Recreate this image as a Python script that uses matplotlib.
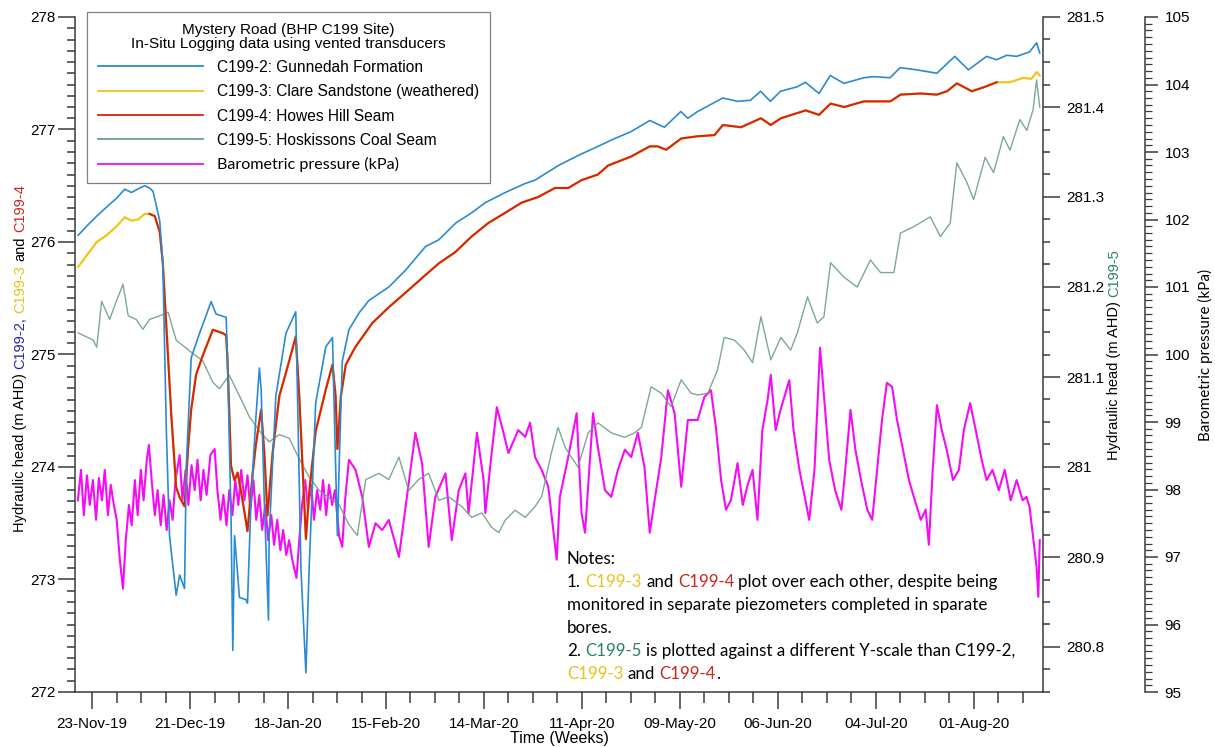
import numpy as np
import pandas as pd
import matplotlib
matplotlib.use('Agg')
import matplotlib.pyplot as plt
from matplotlib.ticker import MultipleLocator, FuncFormatter, FixedLocator
import matplotlib.dates as mdates

plt.rcParams['font.family'] = ['Liberation Sans', 'DejaVu Sans']

# ---------------- data (days after 23-Nov-2019) ----------------
START = '2019-11-23'

c2_day = [-4.0, -1.6, 1.3, 4.1, 7.0, 9.3, 11.2, 13.6, 15.0, 16.4, 17.4, 19.3, 20.2, 21.2, 22.1,
          24.0, 25.0, 26.4, 26.9, 28.3, 30.7, 32.6, 34.0, 35.4, 38.3, 38.7, 39.7, 40.2, 40.7,
          42.1, 44.0, 44.4, 45.4, 46.8, 47.8, 48.3, 49.2, 50.4, 50.6, 52.5, 55.4, 58.2, 58.7,
          59.7, 61.1, 62.0, 63.9, 66.8, 68.7, 69.1, 70.1, 70.6, 71.5, 73.4, 76.3, 79.1, 84.8,
          89.6, 95.3, 99.1, 104.0, 108.5, 112.4, 118.1, 123.8, 126.6, 133.3, 139.0, 144.6,
          149.4, 154.0, 159.4, 163.6, 168.3, 170.3, 173.1, 180.3, 184.5, 188.2, 191.1, 193.9,
          196.8, 201.6, 203.9, 207.8, 211.0, 214.9, 220.6, 223.5, 228.1, 231.0, 235.8, 241.5,
          246.6, 250.5, 255.7, 258.6, 261.5, 264.3, 268.0, 270.0, 270.9]
c2_val = [276.06, 276.14, 276.23, 276.31, 276.39, 276.47, 276.44, 276.48, 276.50, 276.48, 276.45,
          276.19, 275.81, 274.32, 273.39, 272.86, 273.04, 272.92, 274.01, 274.97, 275.19, 275.35,
          275.47, 275.36, 275.33, 274.94, 273.54, 272.37, 273.39, 272.84, 272.82, 272.79, 273.70,
          274.44, 274.88, 274.69, 273.70, 272.64, 273.39, 274.63, 275.19, 275.38, 274.63, 273.08,
          272.17, 273.08, 274.57, 275.07, 275.15, 274.63, 273.39, 274.01, 274.94, 275.22, 275.37,
          275.48, 275.60, 275.75, 275.96, 276.02, 276.17, 276.26, 276.35, 276.44, 276.52, 276.55,
          276.68, 276.77, 276.85, 276.92, 276.98, 277.08, 277.02, 277.16, 277.10, 277.16, 277.28,
          277.25, 277.26, 277.34, 277.25, 277.34, 277.38, 277.42, 277.32, 277.48, 277.41, 277.46,
          277.47, 277.46, 277.55, 277.53, 277.50, 277.65, 277.53, 277.65, 277.62, 277.66, 277.65,
          277.69, 277.77, 277.68]

c4_day = [16.4, 17.9, 19.3, 20.2, 21.2, 22.6, 24.0, 25.0, 26.4, 27.4, 28.3, 29.7, 31.6, 34.5,
          37.3, 38.3, 38.7, 39.7, 40.7, 41.6, 43.0, 44.4, 45.9, 46.8, 48.3, 49.2, 50.1, 51.6,
          53.5, 56.3, 58.2, 59.2, 60.6, 61.1, 62.0, 63.9, 66.8, 68.7, 69.6, 70.1, 71.1, 72.5,
          75.3, 80.1, 84.8, 89.6, 94.3, 99.1, 103.8, 108.5, 113.3, 118.1, 122.8, 127.5, 132.3,
          136.1, 139.9, 144.6, 147.5, 154.1, 159.4, 161.7, 164.1, 168.4, 173.1, 177.9, 180.3,
          185.5, 191.2, 194.0, 196.9, 204.0, 207.8, 211.1, 215.0, 220.6, 228.2, 231.1, 236.8,
          241.5, 244.4, 247.2, 251.5, 255.3, 258.6]
c4_val = [276.25, 276.23, 276.09, 275.81, 275.25, 274.47, 273.82, 273.73, 273.65, 274.16, 274.51,
          274.82, 274.99, 275.22, 275.19, 275.17, 274.94, 274.01, 273.88, 273.95, 273.70, 273.43,
          273.95, 274.20, 274.51, 274.13, 273.57, 274.13, 274.63, 274.94, 275.16, 274.63, 273.70,
          273.36, 273.76, 274.32, 274.69, 274.91, 274.63, 274.16, 274.63, 274.91, 275.07, 275.28,
          275.42, 275.55, 275.68, 275.81, 275.91, 276.05, 276.17, 276.26, 276.35, 276.40, 276.48,
          276.48, 276.55, 276.60, 276.68, 276.76, 276.85, 276.85, 276.82, 276.92, 276.94, 276.95,
          277.04, 277.02, 277.10, 277.04, 277.10, 277.17, 277.13, 277.23, 277.20, 277.25, 277.25,
          277.31, 277.32, 277.31, 277.34, 277.41, 277.34, 277.38, 277.42]

# C199-3 lies on top of C199-4 in the middle of the record; own readings at start and end
c3_start_day = [-4.0, -1.6, 1.3, 4.1, 7.0, 9.3, 11.2, 13.1, 15.0]
c3_start_val = [275.78, 275.88, 276.00, 276.06, 276.14, 276.22, 276.19, 276.20, 276.25]
c3_end_day = [262.4, 266.2, 268.5, 270.0, 270.9]
c3_end_val = [277.42, 277.46, 277.45, 277.51, 277.48]

c5_day = [-4.0, 0.3, 1.3, 2.7, 5.0, 6.5, 8.8, 10.3, 12.6, 14.5, 16.4, 19.3, 21.7, 24.0, 28.8,
          31.6, 34.5, 36.4, 39.2, 42.1, 44.9, 47.8, 50.6, 53.5, 56.3, 59.2, 62.0, 64.9, 67.7,
          70.6, 73.4, 75.8, 78.2, 82.0, 84.8, 87.7, 90.5, 93.3, 96.2, 99.1, 101.9, 105.7, 108.5,
          111.4, 114.2, 116.2, 118.1, 120.9, 123.8, 126.6, 128.5, 131.3, 133.2, 135.2, 137.0,
          138.9, 141.8, 144.6, 148.4, 152.2, 155.1, 157.0, 159.8, 162.7, 165.5, 168.4, 171.2,
          173.1, 176.0, 178.8, 180.7, 183.6, 186.4, 188.8, 191.2, 194.0, 196.9, 199.7, 201.6,
          204.5, 207.3, 209.2, 211.1, 214.9, 218.7, 222.5, 225.4, 229.2, 231.1, 234.9, 239.6,
          242.5, 245.3, 247.2, 250.1, 252.0, 255.3, 257.7, 260.5, 262.4, 265.2, 267.2, 269.0,
          270.0, 270.9]
c5_val = [281.149, 281.141, 281.133, 281.184, 281.164, 281.180, 281.203, 281.168, 281.164,
          281.153, 281.164, 281.168, 281.172, 281.141, 281.126, 281.118, 281.094, 281.087,
          281.102, 281.079, 281.056, 281.040, 281.028, 281.036, 281.032, 281.009, 280.989,
          280.974, 280.966, 280.958, 280.936, 280.924, 280.986, 280.993, 280.986, 281.011,
          280.974, 280.986, 280.993, 280.963, 280.967, 280.956, 280.944, 280.949, 280.933,
          280.927, 280.941, 280.952, 280.944, 280.956, 280.967, 281.016, 281.044, 281.022,
          281.011, 281.000, 281.038, 281.049, 281.038, 281.033, 281.038, 281.044, 281.089,
          281.082, 281.067, 281.097, 281.082, 281.080, 281.082, 281.108, 281.144, 281.141,
          281.130, 281.116, 281.167, 281.119, 281.144, 281.130, 281.149, 281.189, 281.160,
          281.167, 281.227, 281.211, 281.200, 281.230, 281.216, 281.216, 281.260, 281.267,
          281.278, 281.256, 281.271, 281.338, 281.316, 281.297, 281.344, 281.327, 281.367,
          281.352, 281.386, 281.374, 281.397, 281.430, 281.400]

baro_day = [-4.1, -3.2, -2.4, -1.5, -0.7, 0.2, 1.1, 1.9, 2.8, 3.6, 4.5, 5.3, 6.2, 7.0, 7.9, 8.8,
            9.6, 10.5, 11.3, 12.2, 13.0, 13.9, 14.7, 15.6, 16.2, 17.0, 17.9, 18.7, 19.6, 20.4,
            21.3, 22.1, 23.0, 23.8, 25.0, 25.8, 26.7, 27.5, 28.4, 29.3, 30.1, 31.0, 31.8, 32.7,
            33.8, 35.0, 35.8, 36.7, 37.5, 38.4, 39.2, 40.1, 40.9, 41.8, 42.6, 43.5, 44.4, 45.2,
            46.1, 46.9, 47.8, 48.6, 49.5, 50.3, 51.2, 52.0, 52.9, 53.8, 54.6, 55.5, 56.3, 57.2,
            58.4, 59.2, 60.0, 60.9, 61.7, 62.6, 63.4, 64.3, 65.2, 66.0, 66.9, 67.7, 68.6, 69.4,
            70.6, 71.5, 72.3, 73.4, 75.3, 77.2, 79.1, 81.0, 82.9, 84.8, 87.7, 89.6, 92.4, 94.3,
            96.2, 98.1, 101.0, 102.8, 104.8, 106.7, 107.6, 110.0, 111.9, 112.4, 114.2, 115.7,
            117.6, 119.0, 121.8, 123.8, 125.2, 126.6, 128.5, 130.4, 132.8, 133.7, 136.1, 138.5,
            139.9, 140.9, 143.2, 144.6, 146.6, 148.4, 150.3, 152.3, 154.1, 156.0, 157.9, 159.4,
            160.8, 162.7, 164.6, 166.5, 168.4, 170.3, 173.1, 175.0, 176.9, 178.3, 179.8, 181.2,
            182.6, 184.5, 186.0, 187.4, 188.8, 190.2, 191.6, 193.1, 194.0, 195.4, 196.8, 199.3,
            200.5, 202.2, 203.9, 205.0, 206.5, 208.1, 209.3, 210.7, 212.4, 214.2, 215.3, 216.8,
            218.2, 219.8, 221.6, 223.0, 224.4, 225.8, 227.2, 228.7, 230.1, 231.8, 233.5, 235.2,
            236.9, 238.3, 239.2, 240.3, 241.5, 242.9, 244.3, 246.1, 247.8, 249.2, 251.0, 252.6,
            254.3, 255.7, 257.4, 259.2, 260.9, 262.6, 264.3, 266.0, 267.1, 268.0, 269.0, 270.0,
            270.5, 270.9]
baro_val = [97.84, 98.29, 97.62, 98.21, 97.77, 98.14, 97.55, 98.17, 97.84, 98.29, 97.62, 98.07,
            97.77, 97.55, 96.96, 96.53, 97.25, 97.77, 97.47, 98.14, 97.62, 98.29, 97.84, 98.44,
            98.66, 98.14, 97.62, 97.99, 97.47, 97.92, 97.40, 97.84, 97.55, 98.14, 98.51, 97.84,
            98.29, 97.77, 98.36, 97.99, 98.44, 97.84, 98.29, 97.92, 98.51, 98.60, 97.99, 97.55,
            97.92, 97.47, 97.99, 97.62, 98.14, 97.77, 98.29, 97.84, 98.21, 97.70, 98.14, 97.55,
            97.92, 97.40, 97.77, 97.25, 97.62, 97.18, 97.55, 97.10, 97.40, 97.03, 97.25, 96.96,
            96.69, 97.25, 97.77, 98.14, 97.70, 98.07, 97.55, 97.99, 97.70, 98.14, 97.62, 98.07,
            97.77, 97.99, 97.31, 97.15, 97.84, 98.44, 98.29, 97.89, 97.15, 97.50, 97.40, 97.55,
            97.00, 97.74, 98.84, 98.39, 97.15, 97.89, 98.24, 97.25, 97.99, 98.24, 97.65, 98.84,
            98.14, 97.65, 98.54, 99.22, 98.84, 98.54, 98.88, 98.78, 98.99, 98.48, 98.29, 98.04,
            96.96, 97.89, 98.48, 99.13, 97.65, 97.36, 99.13, 98.62, 97.99, 97.89, 98.29, 98.59,
            98.48, 98.84, 98.33, 97.36, 97.84, 98.48, 99.47, 99.13, 98.04, 99.03, 99.03, 99.37,
            99.47, 98.93, 98.14, 97.70, 97.84, 98.39, 97.77, 98.07, 98.29, 97.55, 98.88, 99.33,
            99.70, 98.88, 99.18, 99.62, 98.88, 98.29, 97.84, 97.55, 98.29, 100.10, 99.33, 98.44,
            97.99, 97.70, 98.29, 99.18, 98.59, 98.14, 97.70, 97.55, 98.29, 99.03, 99.58, 99.52,
            99.03, 98.59, 98.14, 97.84, 97.55, 97.70, 97.18, 98.29, 99.25, 98.88, 98.59, 98.14,
            98.29, 98.88, 99.28, 98.88, 98.44, 98.14, 98.29, 97.99, 98.29, 97.84, 98.14, 97.84,
            97.89, 97.74, 97.30, 96.85, 96.41, 97.25]

labels = ['C199-2: Gunnedah Formation', 'C199-3: Clare Sandstone (weathered)',
          'C199-4: Howes Hill Seam', 'C199-5: Hoskissons Coal Seam', 'Barometric pressure (kPa)']
legend_title = 'Mystery Road (BHP C199 Site)\nIn-Situ Logging data using vented transducers'
major_ticks = pd.date_range('2019-11-23', periods=10, freq='28D')
minor_ticks = pd.date_range('2019-11-16', '2020-08-22', freq='7D')
x_range = (pd.Timestamp('2019-11-18 02:00'), pd.Timestamp('2020-08-20 20:00'))

# colours
C_BLUE, C_YEL, C_RED, C_GRN, C_MAG = '#2a8bd3', '#f0c419', '#d8230f', '#6f9f88', '#f50cf5'
T_BLUE, T_YEL, T_RED, T_GRN = '#2525a8', '#e8c21c', '#c8281e', '#2f8260'


def to_dates(days):
    return pd.Timestamp(START) + pd.to_timedelta(np.asarray(days, dtype=float), unit='D')


c3_day = c3_start_day + c4_day + c3_end_day
c3_val = c3_start_val + c4_val + c3_end_val

W, H = 1215, 747
fig = plt.figure(figsize=(W / 100, H / 100), dpi=100)
L, R, B, T = 75 / W, 1043 / W, 1 - 692 / H, 1 - 17 / H
ax = fig.add_axes([L, B, R - L, T - B])
ax2 = ax.twinx()
ax3 = ax.twinx()
ax3.set_zorder(1)
ax2.set_zorder(2)
ax.set_zorder(3)
ax.patch.set_visible(False)
ax2.patch.set_visible(False)

lb, = ax3.plot(to_dates(baro_day), baro_val, color=C_MAG, lw=1.5)
l5, = ax2.plot(to_dates(c5_day), c5_val, color=C_GRN, lw=1.0, alpha=0.9)
l3, = ax.plot(to_dates(c3_day), c3_val, color=C_YEL, lw=1.6)
l4, = ax.plot(to_dates(c4_day), c4_val, color=C_RED, lw=1.5)
l2, = ax.plot(to_dates(c2_day), c2_val, color=C_BLUE, lw=1.2)

ax.set_xlim(*x_range)
ax.set_ylim(272, 278)
ax2.set_ylim(280.75, 281.5)
ax3.set_ylim(95, 105)

SP = '#3a3a3a'
for a in (ax, ax2, ax3):
    for s in a.spines.values():
        s.set_color(SP)
        s.set_linewidth(1.1)
    a.spines['top'].set_visible(False)
ax.spines['right'].set_visible(False)
for s in ('left', 'bottom'):
    ax2.spines[s].set_visible(False)
    ax3.spines[s].set_visible(False)
ax3.spines['right'].set_position(('axes', (1145 - 75) / (1043 - 75)))

ax.xaxis.set_major_locator(FixedLocator(mdates.date2num(major_ticks)))
ax.xaxis.set_minor_locator(FixedLocator(mdates.date2num(minor_ticks)))
ax.xaxis.set_major_formatter(mdates.DateFormatter('%d-%b-%y'))
ax.tick_params(axis='x', which='major', length=12, width=1.1, color=SP, labelsize=11, pad=6)
ax.tick_params(axis='x', which='minor', length=8, width=1.1, color=SP)

ax.yaxis.set_major_locator(MultipleLocator(1))
ax.yaxis.set_minor_locator(MultipleLocator(0.1))
ax.yaxis.set_major_formatter(FuncFormatter(lambda v, p: f'{v:.0f}'))
ax.tick_params(axis='y', which='major', length=12, width=1.1, color=SP, labelsize=11, pad=2)
ax.tick_params(axis='y', which='minor', length=6, width=1.1, color=SP)

ax2.yaxis.set_major_locator(MultipleLocator(0.1))
ax2.yaxis.set_minor_locator(MultipleLocator(0.025))
ax2.yaxis.set_major_formatter(FuncFormatter(lambda v, p: f'{v:.1f}'.rstrip('0').rstrip('.')))
ax2.tick_params(axis='y', which='major', length=12, width=1.1, color=SP, labelsize=11, pad=5)
ax2.tick_params(axis='y', which='minor', length=5, width=1.1, color=SP)

ax3.yaxis.set_major_locator(MultipleLocator(1))
ax3.yaxis.set_minor_locator(MultipleLocator(0.1))
ax3.yaxis.set_major_formatter(FuncFormatter(lambda v, p: f'{v:.0f}'))
ax3.tick_params(axis='y', which='major', length=9, width=1.1, color=SP, labelsize=11, pad=5)
ax3.tick_params(axis='y', which='minor', length=5, width=0.9, color=SP)

ax.set_xlabel('Time (Weeks)', fontsize=11.5)
ax.xaxis.set_label_coords(0.5, -(738 - 692) / 675)
ax.xaxis.label.set_va('center')

ax3.set_ylabel('Barometric pressure (kPa)', fontsize=11, family=['Lato', 'DejaVu Sans'])
ax3.yaxis.set_label_coords((1205 - 75) / 968, 0.5)
ax3.yaxis.label.set_va('center')

leg = ax.legend([l2, l3, l4, l5, lb], labels, title=legend_title, loc='upper left',
                bbox_to_anchor=(87 / W, 1 - 12 / H), bbox_transform=fig.transFigure,
                borderaxespad=0, fancybox=False, edgecolor='#808080', framealpha=1,
                fontsize=11.2, title_fontsize=11.1, handlelength=6.8, handletextpad=0.9,
                labelspacing=0.6, borderpad=0.68)
leg.get_frame().set_linewidth(0.9)
leg.get_title().set_linespacing(1.0)
leg.get_title().set_multialignment('center')
leg.get_texts()[4].set_fontfamily(['Lato', 'DejaVu Sans'])
leg.get_texts()[4].set_fontsize(11.6)
for h in leg.legend_handles:
    h.set_linewidth(1.3)
    h.set_alpha(1)

renderer = fig.canvas.get_renderer()


def text_width(s, **kw):
    t = fig.text(0, 0, s, **kw)
    w = t.get_window_extent(renderer).width
    t.remove()
    return w


def multicolor(parts, x, y, rotation=0, **kw):
    """Place coloured segments one after another; x, y in pixels (from top-left)."""
    full = ''.join(p for p, _ in parts)
    ref = text_width('x', **kw)
    total = text_width(full, **kw)
    pos = 0
    for p, c in parts:
        lead = len(p) - len(p.lstrip(' '))
        prefix = full[:pos + lead]
        off = (text_width(prefix + 'x', **kw) - ref) if prefix else 0.0
        seg = p.strip(' ')
        if rotation == 0:
            fig.text((x + off) / W, 1 - y / H, seg, color=c, ha='left', va='center', **kw)
        else:
            y0 = y + total / 2  # bottom start (pixel from top)
            fig.text(x / W, 1 - (y0 - off) / H, seg, color=c, rotation=90,
                     ha='center', va='bottom', **kw)
        pos += len(p)


K = 'black'
multicolor([('Hydraulic head (m AHD) ', K), ('C199-2,', T_BLUE), (' C199-3', T_YEL),
            (' and ', K), ('C199-4', T_RED)], 20, 358, rotation=90, fontsize=10.5)
multicolor([('Hydraulic head (m AHD) ', K), ('C199-5', T_GRN)], 1114, 355, rotation=90,
           fontsize=10.5)

nkw = dict(fontsize=12.2, family=['Lato', 'DejaVu Sans'])
nx = 567
note_lines = [
    [('Notes:', K)],
    [('1. ', K), ('C199-3', T_YEL), (' and ', K), ('C199-4', T_RED),
     (' plot over each other, despite being', K)],
    [('monitored in separate piezometers completed in sparate', K)],
    [('bores.', K)],
    [('2. ', K), ('C199-5', T_GRN), (' is plotted against a different Y-scale than C199-2,', K)],
    [('C199-3', T_YEL), (' and ', K), ('C199-4', T_RED), ('.', K)],
]
for i, parts in enumerate(note_lines):
    multicolor(parts, nx, 559 + i * 23, **nkw)

fig.savefig('out.png', dpi=100)
